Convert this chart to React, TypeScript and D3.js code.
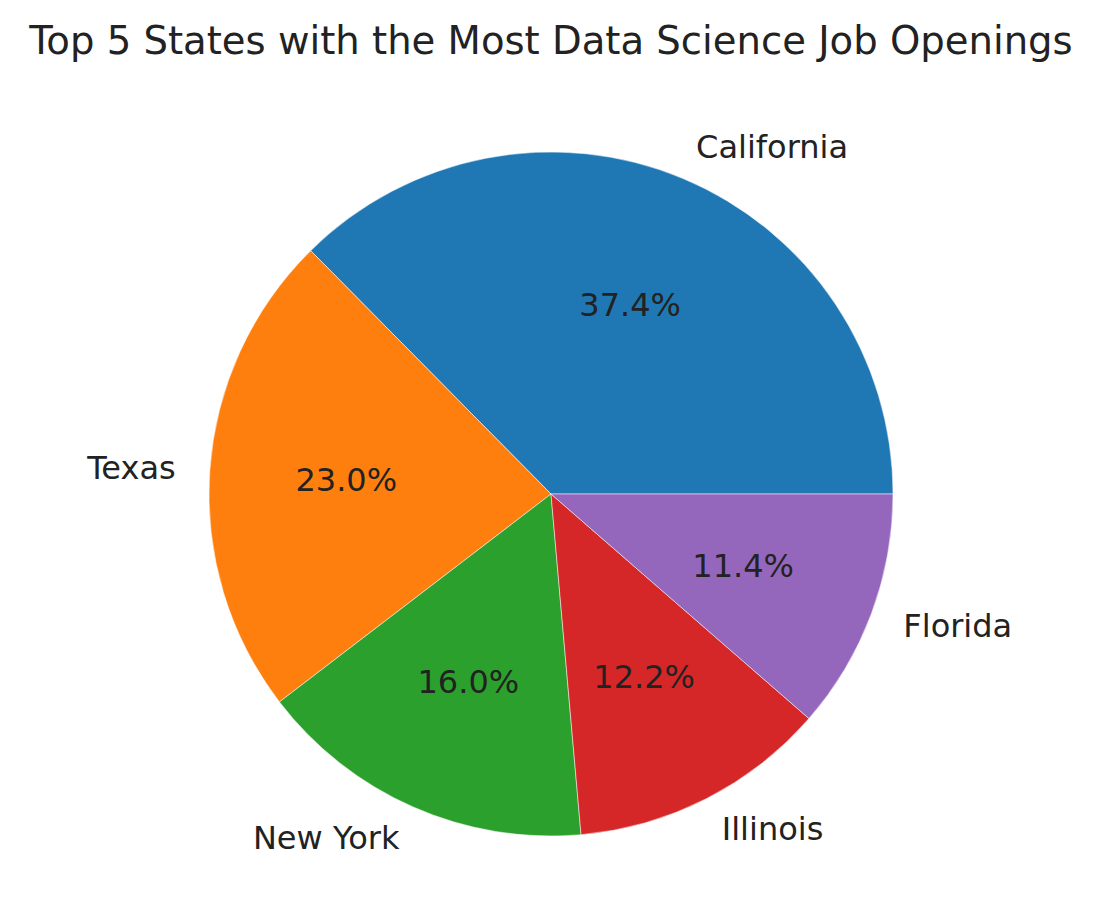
import React from 'react';
import * as d3 from 'd3';

const states = ['California', 'Texas', 'New York', 'Illinois', 'Florida'];
const shares = [37.4, 23.0, 16.0, 12.2, 11.4];
const colors = ['#1f77b4', '#ff7f0e', '#2ca02c', '#d62728', '#9467bd'];

const width = 1107;
const height = 918;
const cx = 551;
const cy = 494;
const radius = 342;

const App = () => {
  // matplotlib starts at 3 o'clock and goes counterclockwise
  const pie = d3.pie<number>()
    .sort(null)
    .startAngle(Math.PI / 2)
    .endAngle(Math.PI / 2 - 2 * Math.PI);
  const arcs = pie(shares);
  const arc = d3.arc<d3.PieArcDatum<number>>().innerRadius(0).outerRadius(radius);

  const pos = (a: number, r: number) => [r * Math.sin(a), -r * Math.cos(a)];

  return (
    <svg width={width} height={height} style={{ display: 'block', position: 'absolute', left: 0, top: 0 }}
      fontFamily="DejaVu Sans, sans-serif">
      <rect width={width} height={height} fill="#fff" />
      <text x={551} y={40} textAnchor="middle" dominantBaseline="central" fontSize={38.6} fill="#222">
        Top 5 States with the Most Data Science Job Openings
      </text>
      <g transform={`translate(${cx},${cy})`}>
        {arcs.map((d, i) => (
          <path key={states[i]} d={arc(d) || ''} fill={colors[i]} stroke="#fff" strokeWidth={0.5} />
        ))}
        {arcs.map((d, i) => {
          const mid = (d.startAngle + d.endAngle) / 2;
          const [lx, ly] = pos(mid, radius * 1.1);
          const [px, py] = pos(mid, radius * 0.6);
          return (
            <g key={'t' + i}>
              <text x={lx} y={ly} textAnchor={lx > 0 ? 'start' : 'end'} dominantBaseline="central"
                fontSize={32} fill="#222">{states[i]}</text>
              <text x={px} y={py} textAnchor="middle" dominantBaseline="central"
                fontSize={32} fill="#222">{d3.format('.1f')(shares[i]) + '%'}</text>
            </g>
          );
        })}
      </g>
    </svg>
  );
};

export default App;
